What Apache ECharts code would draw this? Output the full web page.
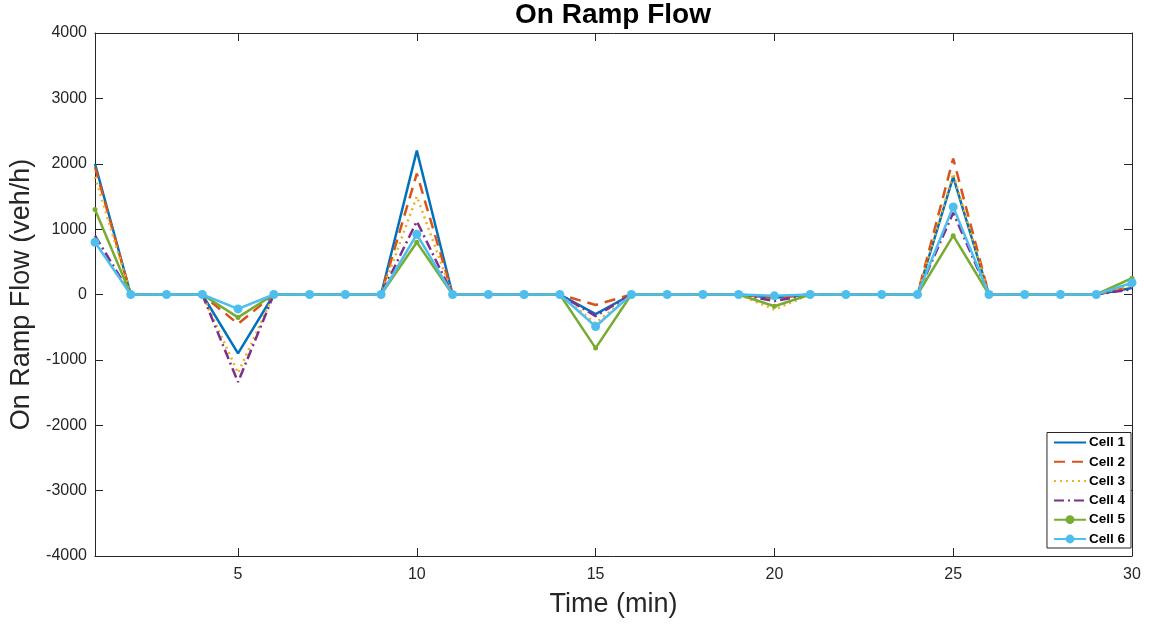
<!DOCTYPE html>
<html>
<head>
<meta charset="utf-8">
<script src="https://cdn.jsdelivr.net/npm/echarts@6/dist/echarts.min.js"></script>
<style>
  html, body { margin: 0; padding: 0; background: #fff; }
  #chart { width: 1156px; height: 624px; }
</style>
</head>
<body>
<div id="chart"></div>
<script>
// Time steps (minutes)
const times = Array.from({ length: 30 }, (_, i) => i + 1);

// On-ramp flow per cell (veh/h), one value per minute
const cell1 = [2000, 0, 0, 0, -900, 0, 0, 0, 0, 2200, 0, 0, 0, 0, -300, 0, 0, 0, 0, -50, 0, 0, 0, 0, 1800, 0, 0, 0, 0, 100];
const cell2 = [1950, 0, 0, 0, -450, 0, 0, 0, 0, 1850, 0, 0, 0, 0, -160, 0, 0, 0, 0, -50, 0, 0, 0, 0, 2080, 0, 0, 0, 0, 120];
const cell3 = [1800, 0, 0, 0, -1200, 0, 0, 0, 0, 1500, 0, 0, 0, 0, -440, 0, 0, 0, 0, -230, 0, 0, 0, 0, 1850, 0, 0, 0, 0, 150];
const cell4 = [900, 0, 0, 0, -1340, 0, 0, 0, 0, 1120, 0, 0, 0, 0, -330, 0, 0, 0, 0, -100, 0, 0, 0, 0, 1250, 0, 0, 0, 0, 80];
const cell5 = [1300, 0, 0, 0, -350, 0, 0, 0, 0, 800, 0, 0, 0, 0, -820, 0, 0, 0, 0, -180, 0, 0, 0, 0, 900, 0, 0, 0, 0, 250];
const cell6 = [800, 0, 0, 0, -220, 0, 0, 0, 0, 920, 0, 0, 0, 0, -490, 0, 0, 0, 0, -20, 0, 0, 0, 0, 1340, 0, 0, 0, 0, 180];

const seriesNames = ['Cell 1', 'Cell 2', 'Cell 3', 'Cell 4', 'Cell 5', 'Cell 6'];
const xTicks = [5, 10, 15, 20, 25, 30];

const colors = ['#0072BD', '#D95319', '#EDB120', '#7E2F8E', '#77AC30', '#4DBEEE'];
const dashes = ['solid', [11, 7], [2, 4], [10, 4, 2, 4], 'solid', 'solid'];
const symbols = ['none', 'none', 'none', 'none', 'circle', 'circle'];
const symbolSizes = [0, 0, 0, 0, 5, 9];
const allData = [cell1, cell2, cell3, cell4, cell5, cell6];

const font = 'Liberation Sans, Arial, Helvetica, sans-serif';

const series = allData.map((vals, i) => ({
  name: seriesNames[i],
  type: 'line',
  xAxisIndex: 0,
  yAxisIndex: 0,
  data: times.map((t, k) => [t, vals[k]]),
  symbol: symbols[i],
  symbolSize: symbolSizes[i],
  showSymbol: symbols[i] !== 'none',
  color: colors[i],
  itemStyle: { color: colors[i] },
  lineStyle: { color: colors[i], width: 2.5, type: dashes[i] },
  animation: false,
  z: 2 + i
}));

// Legend entries: plain lines for cells without markers
const legendData = seriesNames.map((name, i) => {
  const item = { name: name };
  if (symbols[i] === 'none') {
    item.itemStyle = { opacity: 0 };
  }
  return item;
});

const axisCommon = {
  axisLine: { show: true, onZero: false, lineStyle: { color: '#262626', width: 1 } },
  axisTick: { show: true, inside: true, length: 8, lineStyle: { color: '#262626' } },
  splitLine: { show: false }
};

const option = {
  backgroundColor: '#ffffff',
  animation: false,
  title: {
    text: 'On Ramp Flow',
    left: 608, top: -4, textAlign: 'center',
    textStyle: { fontFamily: font, fontSize: 28, fontWeight: 'bold', color: '#000' }
  },
  grid: { left: 95, right: 24, top: 33, bottom: 68 },
  legend: {
    data: legendData,
    orient: 'vertical',
    right: 25, bottom: 76,
    backgroundColor: '#fff',
    borderColor: '#262626', borderWidth: 1, borderRadius: 0,
    padding: [3, 6, 2, 6],
    itemGap: 5.3,
    itemWidth: 32, itemHeight: 11,
    textStyle: { fontFamily: font, fontSize: 13.5, fontWeight: 'bold', color: '#000', padding: [0, 0, 0, -2] }
  },
  xAxis: [
    Object.assign({}, axisCommon, {
      type: 'value', min: 1, max: 30, position: 'bottom',
      name: 'Time (min)', nameLocation: 'middle', nameGap: 35,
      nameTextStyle: { fontFamily: font, fontSize: 27, color: '#262626' },
      axisTick: Object.assign({}, axisCommon.axisTick, { customValues: xTicks }),
      axisLabel: { customValues: xTicks, fontFamily: font, fontSize: 16, color: '#262626', margin: 11 }
    }),
    Object.assign({}, axisCommon, {
      type: 'value', min: 1, max: 30, position: 'top',
      axisTick: Object.assign({}, axisCommon.axisTick, { customValues: xTicks }),
      axisLabel: { show: false, customValues: xTicks }
    })
  ],
  yAxis: [
    Object.assign({}, axisCommon, {
      type: 'value', min: -4000, max: 4000, interval: 1000, position: 'left',
      name: 'On Ramp Flow (veh/h)', nameLocation: 'middle', nameGap: 60,
      nameTextStyle: { fontFamily: font, fontSize: 27, color: '#262626' },
      axisLabel: { fontFamily: font, fontSize: 16, color: '#262626', margin: 8, formatter: v => String(v) }
    }),
    Object.assign({}, axisCommon, {
      type: 'value', min: -4000, max: 4000, interval: 1000, position: 'right',
      axisLabel: { show: false }
    })
  ],
  series: series
};

const chart = echarts.init(document.getElementById('chart'), null, { renderer: 'canvas' });
chart.setOption(option);
</script>
</body>
</html>
